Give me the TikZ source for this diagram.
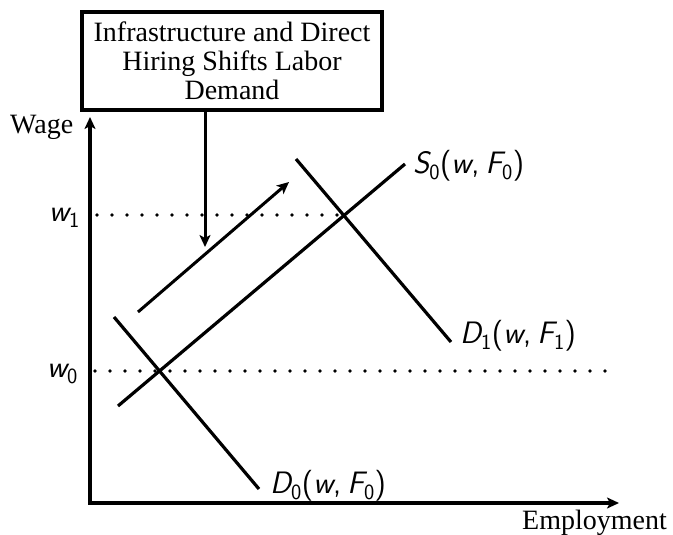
\documentclass[tikz,border=0pt]{standalone}
\usepackage{fontspec}
\setmainfont{Liberation Serif}
\usetikzlibrary{arrows.meta}
\newcommand\mi[1]{{\itshape #1}}
\newcommand\mysub[1]{$_{\mathsf{#1}}$}
\newcommand\cm{,\hspace{0.2em}}
\tikzset{
  curve/.style={line width=3.2pt},
  axis/.style={line width=3.2pt,-{Stealth[length=12pt,width=11pt,inset=3pt]}},
  shiftarrow/.style={line width=3pt,-{Stealth[length=12pt,width=11pt,inset=3pt]}},
  dotline/.style={line width=3.6pt,line cap=round,dash pattern=on 0pt off 15pt},
  lab/.style={font=\fontsize{31}{33}\selectfont\sffamily,inner sep=0pt},
  txt/.style={font=\fontsize{28}{29}\selectfont,inner sep=0pt},
  boxnode/.style={draw,line width=3.5pt,font=\fontsize{28}{29}\selectfont,align=center,
    minimum width=300pt,minimum height=98pt,inner sep=0pt}
}
\begin{document}
\begin{tikzpicture}[x=1pt,y=-1pt]
\useasboundingbox (0,0) rectangle (673,535);
% axes
\coordinate (O) at (90,503);
\coordinate (ytip) at (90,117);
\coordinate (xtip) at (619,503);
\draw[axis] ([yshift=-1.6pt]O) -- (ytip);
\draw[axis] ([xshift=-1.6pt]O) -- (xtip);
\node[txt,anchor=base west] (wage) at (10,133) {Wage};
\node[txt,anchor=base west] (emp) at (522,529) {Employment};
% box
\node[boxnode] (box) at (232,61) {Infrastructure and Direct\\Hiring Shifts Labor\\Demand};
\coordinate (boxarr) at (205,247);
\draw[shiftarrow] (box.south -| boxarr) -- (boxarr);
% dotted lines
\coordinate (w1s) at (97,215);
\coordinate (E1) at (344,215);
\coordinate (w0s) at (95,371);
\coordinate (w0e) at (610,371);
\draw[dotline] (w1s) -- (E1);
\draw[dotline] (w0s) -- (w0e);
\node[lab,anchor=base east] (w1) at (80,221) {\mi{w}\mysub{1}};
\node[lab,anchor=base east] (w0) at (78,377) {\mi{w}\mysub{0}};
% supply
\coordinate (S0a) at (118,406);
\coordinate (S0b) at (405,164);
\draw[curve] (S0a) -- (S0b);
\node[lab,anchor=base west] (S0l) at (413,173) {\mi{S}\mysub{0}(\mi{w}\cm\mi{F}\mysub{0})};
% demand 0
\coordinate (D0a) at (114,317);
\coordinate (D0b) at (259,489);
\draw[curve] (D0a) -- (D0b);
\node[lab,anchor=base west] (D0l) at (270,493) {\mi{D}\mysub{0}(\mi{w}\cm\mi{F}\mysub{0})};
% demand 1
\coordinate (D1a) at (296,159);
\coordinate (D1b) at (451,342);
\draw[curve] (D1a) -- (D1b);
\node[lab,anchor=base west] (D1l) at (460,343) {\mi{D}\mysub{1}(\mi{w}\cm\mi{F}\mysub{1})};
% shift arrow
\coordinate (sh1) at (138,312);
\coordinate (sh2) at (289,182);
\draw[shiftarrow] (sh1) -- (sh2);
\end{tikzpicture}
\end{document}
